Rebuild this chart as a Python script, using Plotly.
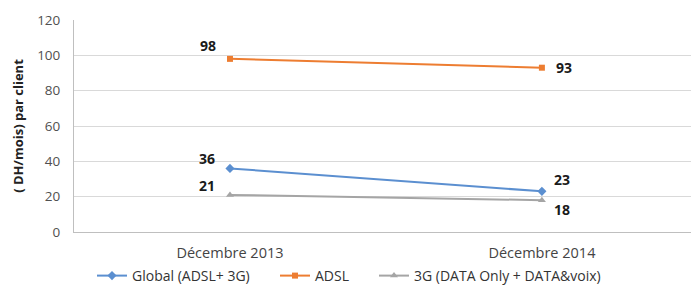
import plotly.graph_objects as go

categories = ["Décembre 2013", "Décembre 2014"]
global_vals = [36, 23]
adsl_vals = [98, 93]
g3_vals = [21, 18]
y_ticks = [0, 20, 40, 60, 80, 100, 120]

series = [
    dict(name="Global (ADSL+ 3G)", values=global_vals, color="#5b8fd0", symbol="diamond", size=7,
         shifts=[(-23, 10), (20, 12)], legend="legend", lx=92),
    dict(name="ADSL", values=adsl_vals, color="#ed7d31", symbol="square", size=6,
         shifts=[(-22, 13), (22, 0)], legend="legend2", lx=275),
    dict(name="3G (DATA Only + DATA&voix)", values=g3_vals, color="#a5a5a5", symbol="triangle-up", size=7,
         shifts=[(-23, 9), (20, -9)], legend="legend3", lx=374),
]

FONT = "Open Sans"
W, H = 691, 289
fig = go.Figure()
annotations = []
legends = {}
for s in series:
    xs = list(range(len(categories)))
    fig.add_trace(go.Scatter(
        x=xs, y=s["values"], name=s["name"], mode="lines+markers",
        line=dict(color=s["color"], width=2), legend=s["legend"],
        marker=dict(symbol=s["symbol"], size=s["size"]), cliponaxis=False))
    for xi, v, (dx, dy) in zip(xs, s["values"], s["shifts"]):
        annotations.append(dict(
            x=xi, y=v, xref="x", yref="y", text=f"<b>{v}</b>", showarrow=False,
            xshift=dx, yshift=dy, font=dict(family=FONT, size=14, color="#1a1a1a")))
    legends[s["legend"]] = dict(
        orientation="h", xref="container", yref="container",
        x=s["lx"] / W, xanchor="left", y=(H - 276) / H, yanchor="middle",
        bgcolor="rgba(0,0,0,0)", borderwidth=0,
        font=dict(family=FONT, size=14, color="#333"), itemwidth=30)

fig.update_layout(
    width=W, height=H,
    margin=dict(l=74, r=0, t=20, b=57, autoexpand=False),
    paper_bgcolor="white", plot_bgcolor="white",
    font=dict(family=FONT, size=13, color="#444"),
    showlegend=True,
    annotations=annotations,
    **legends,
)
fig.update_xaxes(
    range=[-0.5, 1.478], tickmode="array", tickvals=[0, 1], ticktext=categories,
    showgrid=False, zeroline=False, showline=True, linecolor="#bfbfbf",
    ticks="outside", ticklen=8, tickcolor="rgba(0,0,0,0)",
    tickfont=dict(family=FONT, size=14.5, color="#444"))
fig.update_yaxes(
    range=[0, 120], tickmode="array", tickvals=y_ticks,
    showgrid=True, gridcolor="#d9d9d9", gridwidth=1, zeroline=False,
    showline=True, linecolor="#bfbfbf", ticks="outside", ticklen=10, tickcolor="rgba(0,0,0,0)",
    tickfont=dict(family=FONT, size=13.5, color="#505050"),
    title=dict(text="<b>( DH/mois) par client</b>", font=dict(family=FONT, size=13, color="#222"), standoff=10))

fig.write_html("out.html", config={"displayModeBar": False},
               post_script="document.body.style.margin='0';")
